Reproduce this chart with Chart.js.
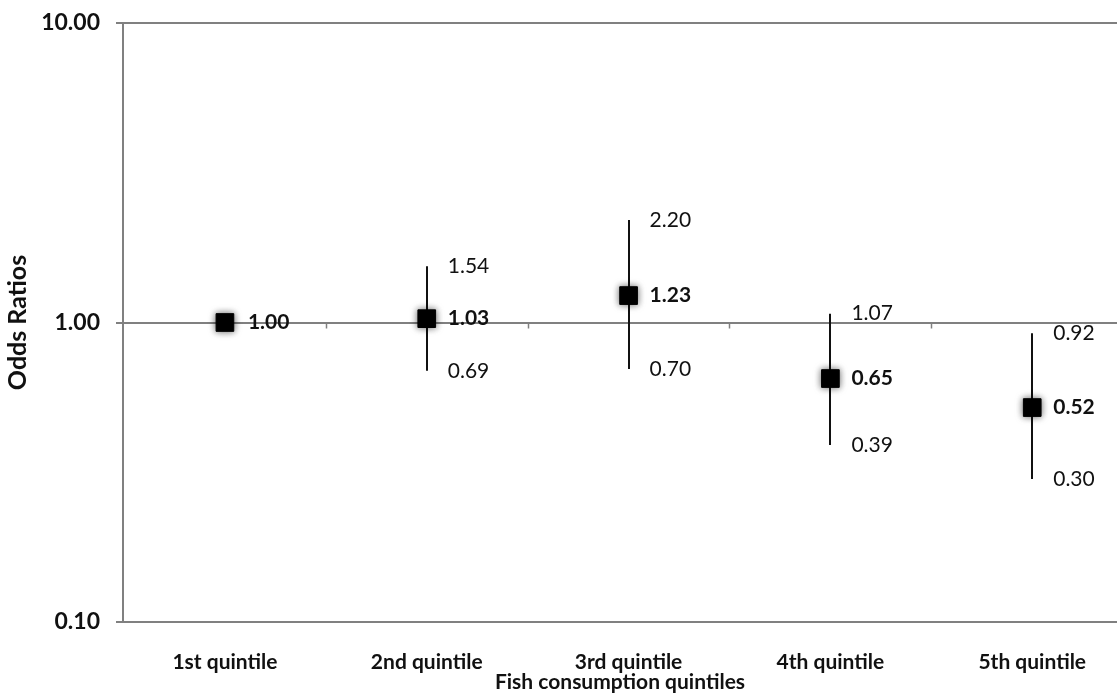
<!DOCTYPE html>
<html>
<head>
<meta charset="utf-8">
<script src="https://cdn.jsdelivr.net/npm/chart.js@4"></script>
<style>
  html, body { margin: 0; padding: 0; background: #fff; }
  #wrap { width: 1117px; height: 693px; }
</style>
</head>
<body>
<div id="wrap"><canvas id="myChart"></canvas></div>
<script>
const categories = ['1st quintile', '2nd quintile', '3rd quintile', '4th quintile', '5th quintile'];
const oddsRatios = [1.00, 1.03, 1.23, 0.65, 0.52];
const lowerCI = [null, 0.69, 0.70, 0.39, 0.30];
const upperCI = [null, 1.54, 2.20, 1.07, 0.92];
const yTicks = [0.1, 1, 10];

const fontFam = 'Lato, "Open Sans", sans-serif';
const ink = '#111';
const axisGray = '#808080';

// error bars, value labels, and the little category ticks on the 1.00 line
const whiskers = {
    id: 'whiskers',
    beforeDatasetsDraw(chart) {
        const c = chart.ctx, x = chart.scales.x, y = chart.scales.y;
        c.save();
        // small tick marks between categories on the y = 1 line
        c.strokeStyle = axisGray;
        c.lineWidth = 1.5;
        const y1 = y.getPixelForValue(1);
        for (let i = 0; i < categories.length - 1; i++) {
            const px = Math.round(x.getPixelForValue(i + 0.5)) + 0.5;
            c.beginPath();
            c.moveTo(px, y1);
            c.lineTo(px, y1 + 6);
            c.stroke();
        }
        c.strokeStyle = ink;
        c.lineWidth = 2;
        categories.forEach((cat, i) => {
            if (lowerCI[i] == null) return;
            const px = Math.round(x.getPixelForValue(i));
            c.beginPath();
            c.moveTo(px, y.getPixelForValue(upperCI[i]));
            c.lineTo(px, y.getPixelForValue(lowerCI[i]));
            c.stroke();
        });
        c.restore();
    },
    afterDatasetsDraw(chart) {
        const c = chart.ctx, x = chart.scales.x, y = chart.scales.y;
        c.save();
        c.fillStyle = ink;
        c.textAlign = 'left';
        c.textBaseline = 'middle';
        categories.forEach((cat, i) => {
            const px = x.getPixelForValue(i) + 21;
            c.font = 'bold 21px ' + fontFam;
            c.fillText(oddsRatios[i].toFixed(2), px + (i === 0 ? 2 : 0), y.getPixelForValue(oddsRatios[i]));
            if (lowerCI[i] == null) return;
            c.font = '21px ' + fontFam;
            c.fillText(upperCI[i].toFixed(2), px, y.getPixelForValue(upperCI[i]));
            c.fillText(lowerCI[i].toFixed(2), px, y.getPixelForValue(lowerCI[i]));
        });
        c.restore();
    },
    beforeDatasetDraw(chart) {
        const c = chart.ctx;
        c.save();
        c.shadowColor = 'rgba(0,0,0,0.6)';
        c.shadowBlur = 7;
    },
    afterDatasetDraw(chart) {
        chart.ctx.restore();
    }
};

const ctx = document.getElementById('myChart').getContext('2d');

const myChart = new Chart(ctx, {
    type: 'scatter',
    data: {
        datasets: [{
            label: 'Odds ratio',
            data: oddsRatios.map((v, i) => ({ x: i, y: v })),
            pointStyle: 'rect',
            pointRadius: 12.5,
            pointBorderWidth: 1,
            backgroundColor: '#000',
            borderColor: '#000'
        }]
    },
    options: {
        responsive: true,
        maintainAspectRatio: false,
        animation: false,
        layout: { autoPadding: false, padding: { top: 23, left: 0, right: 0, bottom: 0 } },
        plugins: {
            legend: { display: false },
            tooltip: { enabled: false }
        },
        scales: {
            x: {
                type: 'linear',
                min: -0.505,
                max: 4.42,
                grid: { display: false, drawTicks: false },
                border: { display: false },
                afterBuildTicks: (s) => { s.ticks = categories.map((c, i) => ({ value: i })); },
                afterFit: (s) => { s.height = 71; s.paddingLeft = 0; s.paddingRight = 0; },
                ticks: {
                    padding: 28,
                    maxRotation: 0,
                    color: ink,
                    font: { family: fontFam, size: 21, weight: 'bold' },
                    callback: (v) => categories[v]
                },
                title: {
                    display: true,
                    text: 'Fish consumption quintiles',
                    color: ink,
                    padding: { top: 0, bottom: 0 },
                    font: { family: fontFam, size: 21, weight: 'bold', lineHeight: 1 }
                }
            },
            y: {
                type: 'logarithmic',
                min: 0.1,
                max: 10,
                afterBuildTicks: (s) => { s.ticks = yTicks.map(v => ({ value: v })); },
                afterFit: (s) => { s.width = 123; s.paddingTop = 0; s.paddingBottom = 0; },
                grid: {
                    color: axisGray,
                    lineWidth: 2,
                    tickLength: 7
                },
                border: { color: axisGray, width: 2 },
                ticks: {
                    padding: 16,
                    color: ink,
                    font: { family: fontFam, size: 23, weight: 'bold' },
                    callback: (v) => Number(v).toFixed(2)
                },
                title: {
                    display: true,
                    text: 'Odds Ratios',
                    color: ink,
                    padding: { top: 5, bottom: 0 },
                    font: { family: fontFam, size: 25, weight: 'bold', lineHeight: 1 }
                }
            }
        }
    },
    plugins: [whiskers]
});
</script>
</body>
</html>
